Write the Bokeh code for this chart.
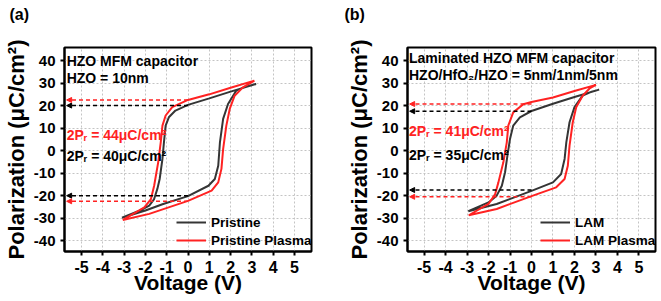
from bokeh.plotting import figure
from bokeh.layouts import row
from bokeh.models import Arrow, NormalHead, Legend, LegendItem, Range1d, Label, Title
from bokeh.embed import file_html
from bokeh.resources import INLINE

FONT = "Liberation Sans"
BLACK = "#353535"
RED = "#ff2222"
GRID = "#c4c4c4"

x_ticks = [-5, -4, -3, -2, -1, 0, 1, 2, 3, 4, 5]
y_ticks = [-40, -30, -20, -10, 0, 10, 20, 30, 40]
x_tick_labels = {t: str(t) for t in x_ticks}
y_tick_labels = {t: str(t) for t in y_ticks}

# ---- panel (a): HZO MFM capacitor ----
pristine_v = [3.20, 2.0, 1.0, 0.0, -0.59, -0.90, -1.05, -1.13, -1.20, -1.33, -1.44, -1.59, -1.82, -2.28, -3.10,
              -2.0, -1.2, 0.0, 0.96, 1.26, 1.42, 1.50, 1.65, 1.88, 2.27, 2.70, 3.20]
pristine_p = [29.6, 26.2, 23.2, 20.3, 17.8, 14.8, 11.1, 3.7, -3.7, -12.6, -17.0, -21.5, -24.4, -26.7, -29.8,
              -26.6, -23.8, -20.2, -15.6, -12.6, -6.7, 3.7, 14.1, 20.7, 26.7, 28.4, 29.6]
plasma_a_v = [3.12, 2.0, 1.0, 0.0, -0.74, -1.05, -1.20, -1.28, -1.40, -1.59, -1.74, -2.05, -3.06,
              -1.82, 0.0, 1.11, 1.42, 1.57, 1.65, 1.80, 1.96, 2.19, 2.58, 3.12]
plasma_a_p = [31.1, 27.9, 25.0, 22.5, 19.3, 15.6, 11.1, 3.7, -5.2, -15.6, -21.5, -25.2, -30.8,
              -28.1, -22.3, -17.8, -14.1, -8.1, 0.7, 11.1, 18.5, 24.4, 28.1, 31.1]

# ---- panel (b): laminated HZO MFM capacitor ----
lam_v = [3.15, 2.0, 1.0, 0.0, -0.54, -0.85, -1.00, -1.12, -1.23, -1.38, -1.62, -2.00, -2.94,
         -1.62, 0.0, 1.00, 1.38, 1.54, 1.62, 1.77, 2.00, 2.38, 2.80, 3.15]
lam_p = [27.1, 23.8, 20.8, 17.6, 14.8, 11.1, 5.2, -2.2, -9.6, -15.6, -20.0, -23.0, -26.9,
         -23.7, -17.9, -14.1, -10.4, -3.7, 3.7, 12.6, 19.3, 24.4, 26.2, 27.1]
lam_plasma_v = [3.00, 2.0, 1.0, 0.0, -0.38, -0.85, -1.08, -1.15, -1.31, -1.54, -1.69, -2.00, -2.92,
                -1.62, 0.0, 1.15, 1.54, 1.69, 1.77, 1.92, 2.08, 2.38, 2.70, 3.00]
lam_plasma_p = [29.2, 26.5, 23.6, 21.6, 20.6, 17.0, 11.1, 3.7, -5.2, -14.1, -19.3, -23.7, -28.7,
                -25.9, -20.2, -16.3, -12.6, -6.7, 2.2, 12.6, 19.3, 24.4, 27.6, 29.2]

# remanent polarization levels (dashed arrows)
pr_a_black = [20.0, -20.0]
pr_a_red = [22.5, -22.5]
pr_b_black = [17.5, -17.5]
pr_b_red = [20.7, -20.5]

Y_RANGE = (-44.8, 45.8)


def make_panel(width, border_left, border_right, x_range, tag, tag_offset):
    p = figure(width=width, height=300, x_range=Range1d(*x_range), y_range=Range1d(*Y_RANGE),
               output_backend="svg", toolbar_location=None,
               min_border_left=border_left, min_border_right=border_right,
               min_border_top=47, min_border_bottom=49)
    p.background_fill_color = "white"
    p.border_fill_color = "white"
    p.outline_line_color = "black"
    p.outline_line_width = 2
    p.xaxis.ticker = x_ticks
    p.yaxis.ticker = y_ticks
    p.xaxis.major_label_overrides = x_tick_labels
    p.yaxis.major_label_overrides = y_tick_labels
    for ax in (p.xaxis, p.yaxis):
        ax.axis_line_width = 2
        ax.axis_line_color = "black"
        ax.major_tick_line_width = 2
        ax.major_tick_line_color = "black"
        ax.major_tick_in = 0
        ax.major_tick_out = 4
        ax.minor_tick_line_color = None
        ax.major_label_text_font = FONT
        ax.major_label_text_font_style = "bold"
        ax.major_label_text_color = "black"
        ax.axis_label_text_font = FONT
        ax.axis_label_text_font_style = "bold"
        ax.axis_label_text_color = "black"
    p.xaxis.major_label_text_font_size = "16px"
    p.yaxis.major_label_text_font_size = "15px"
    p.xaxis.major_label_standoff = 5
    p.yaxis.major_label_standoff = 5
    p.xaxis.axis_label = "Voltage (V)"
    p.yaxis.axis_label = "Polarization (μC/cm²)"
    p.xaxis.axis_label_text_font_size = "21px"
    p.yaxis.axis_label_text_font_size = "22px"
    p.xaxis.axis_label_standoff = -5
    p.yaxis.axis_label_standoff = 2
    for g in (p.xgrid, p.ygrid):
        g.grid_line_color = GRID
        g.grid_line_dash = "2 2"
        g.grid_line_width = 1
    # spacer title (next to the frame), then the panel tag above it
    p.add_layout(Title(text=" ", standoff=12, text_font_size="8px"), "above")
    p.add_layout(Title(text=tag, align="left", offset=tag_offset, standoff=0, vertical_align="top",
                       text_font=FONT, text_font_style="bold", text_font_size="16px",
                       text_color="black"), "above")
    return p


def add_arrows(p, levels, color, x_left):
    for lv in levels:
        p.add_layout(Arrow(end=NormalHead(size=5, fill_color=color, line_color=color),
                           x_start=0.0, y_start=lv, x_end=x_left, y_end=lv,
                           line_color=color, line_width=1.5, line_dash="4 3"))


def add_text(p, x, y, text, color="black", size="14px"):
    p.add_layout(Label(x=x, y=y, text=text, text_font=FONT, text_font_style="bold",
                       text_font_size=size, text_color=color, text_baseline="middle"))


def add_legend(p, items, loc):
    leg = Legend(items=items, location=loc, padding=0, margin=0, spacing=0,
                 border_line_alpha=0, background_fill_alpha=0,
                 label_text_font=FONT, label_text_font_style="bold", label_text_font_size="13.5px",
                 label_text_color="black", glyph_width=30, glyph_height=18, label_height=18,
                 label_standoff=5)
    p.add_layout(leg)


# ---------- panel a ----------
XA = (-5.8, 5.8)
pa = make_panel(330, 61, 19, XA, "(a)", -55)
add_arrows(pa, pr_a_black, "black", -5.7)
add_arrows(pa, pr_a_red, RED, -5.7)
ra1 = pa.line(pristine_v, pristine_p, line_color=BLACK, line_width=2)
ra2 = pa.line(plasma_a_v, plasma_a_p, line_color=RED, line_width=2)
add_text(pa, -5.7, 40.0, "HZO MFM capacitor")
add_text(pa, -5.7, 32.2, "HZO = 10nm")
add_text(pa, -5.7, 7.0, "2Pᵣ = 44μC/cm²", RED)
add_text(pa, -5.7, -2.2, "2Pᵣ = 40μC/cm²")
add_legend(pa, [LegendItem(label="Pristine", renderers=[ra1]),
                LegendItem(label="Pristine Plasma", renderers=[ra2])], (112, 2))

# ---------- panel b ----------
XB = (-5.77, 5.77)
pb = make_panel(331, 77, 6, XB, "(b)", -63)
add_arrows(pb, pr_b_black, "black", -5.67)
add_arrows(pb, pr_b_red, RED, -5.67)
rb1 = pb.line(lam_v, lam_p, line_color=BLACK, line_width=2)
rb2 = pb.line(lam_plasma_v, lam_plasma_p, line_color=RED, line_width=2)
add_text(pb, -5.7, 41.0, "Laminated HZO MFM capacitor")
add_text(pb, -5.7, 33.5, "HZO/HfO₂/HZO = 5nm/1nm/5nm")
add_text(pb, -5.7, 8.6, "2Pᵣ = 41μC/cm²", RED)
add_text(pb, -5.7, -1.8, "2Pᵣ = 35μC/cm²")
add_legend(pb, [LegendItem(label="LAM", renderers=[rb1]),
                LegendItem(label="LAM Plasma", renderers=[rb2])], (133, 2))

layout = row(pa, pb)
open("out.html", "w").write(file_html(layout, INLINE))
